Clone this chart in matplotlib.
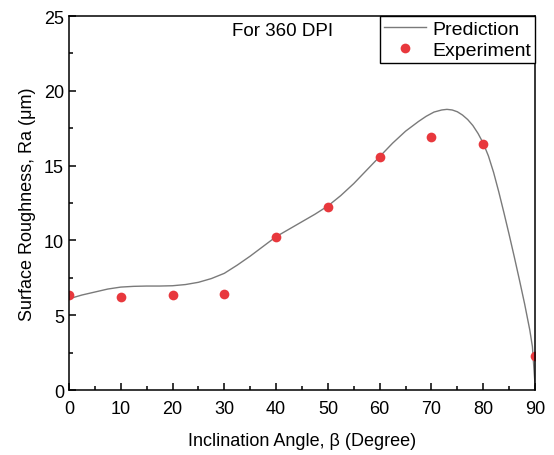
import numpy as np
import matplotlib.pyplot as plt
from matplotlib.ticker import MultipleLocator

plt.rcParams['font.family'] = ['Liberation Sans', 'DejaVu Sans']

# experiment points
angle_exp = [0, 10, 20, 30, 40, 50, 60, 70, 80, 90]
ra_exp = [6.35, 6.24, 6.35, 6.45, 10.25, 12.25, 15.55, 16.9, 16.45, 2.25]

# prediction curve
angle_pred = [0, 2.5, 5, 7.5, 10, 12.5, 15, 17.5, 20, 22.5, 25, 27.5, 30, 32.5,
              35, 37.5, 40, 42.5, 45, 47.5, 50, 52.5, 55, 57.5, 60, 62.5, 65,
              67.5, 69, 70.5, 72, 73, 74, 75, 76, 77, 78, 79, 80, 81, 82, 83,
              84, 85, 86, 87, 88, 89, 89.5, 90]
ra_pred = [6.1, 6.35, 6.55, 6.75, 6.88, 6.93, 6.95, 6.95, 6.97, 7.05, 7.2, 7.45,
           7.8, 8.35, 8.95, 9.6, 10.25, 10.75, 11.25, 11.75, 12.3, 13.0, 13.8,
           14.7, 15.6, 16.5, 17.3, 17.95, 18.3, 18.58, 18.72, 18.76, 18.72,
           18.6, 18.38, 18.08, 17.68, 17.15, 16.5, 15.65, 14.55, 13.25, 11.85,
           10.4, 8.9, 7.35, 5.75, 4.0, 2.9, 0.4]

fig = plt.figure(figsize=(5.54, 4.56), dpi=100)
ax = fig.add_axes([0.1245, 0.1425, 0.8412, 0.8202])

ax.plot(angle_pred, ra_pred, color='#7a7a7a', lw=1.0, label='Prediction')
ax.plot(angle_exp, ra_exp, 'o', color='#e8383d', ms=7, mec='none', label='Experiment')

ax.set_xlim(0, 90)
ax.set_ylim(0, 25)
ax.xaxis.set_major_locator(MultipleLocator(10))
ax.xaxis.set_minor_locator(MultipleLocator(5))
ax.yaxis.set_major_locator(MultipleLocator(5))
ax.yaxis.set_minor_locator(MultipleLocator(2.5))
ax.tick_params(which='both', direction='in', labelsize=13, width=1.1)
ax.tick_params(which='major', length=5)
ax.tick_params(which='minor', length=3)
ax.tick_params(axis='x', pad=7)
for s in ax.spines.values():
    s.set_linewidth(1.1)

ax.set_xlabel('Inclination Angle, β (Degree)', fontsize=13, labelpad=11)
ax.set_ylabel('Surface Roughness, Ra (μm)', fontsize=13, labelpad=6)

ax.text(41.2, 24.05, 'For 360 DPI', fontsize=13.5, ha='center', va='center')

leg = ax.legend(loc='upper right', fontsize=14, frameon=True, fancybox=False,
                edgecolor='black', borderaxespad=0, handlelength=2.2,
                handletextpad=0.3, framealpha=1, borderpad=0.2,
                labelspacing=0.2)
leg.get_frame().set_linewidth(1.0)

fig.savefig('out.png', dpi=100)
